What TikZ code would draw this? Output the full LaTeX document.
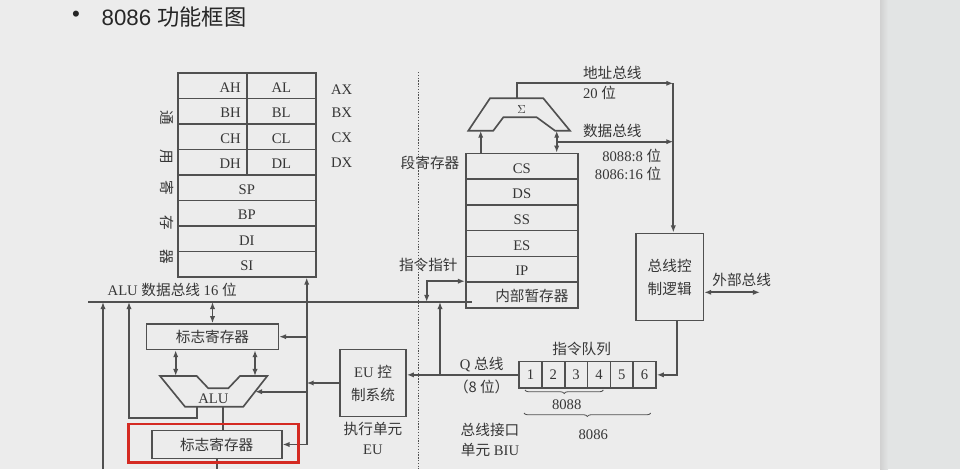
\documentclass[tikz,border=0pt]{standalone}
\usepackage{fontspec}
\setmainfont{Liberation Serif}
\newfontfamily\cjk{Noto Sans CJK SC}
\newfontfamily\titlefont{Liberation Sans}
\usepackage{tikz}
\usetikzlibrary{arrows.meta, decorations.pathreplacing}
\definecolor{ln}{HTML}{505050}
\definecolor{tx}{HTML}{363636}
\definecolor{bg}{HTML}{ECECEC}
\definecolor{side}{HTML}{E2E4E4}
\definecolor{hlred}{HTML}{D42A22}
\newcommand{\zh}[1]{{\cjk #1}}

\begin{document}
\begin{tikzpicture}[x=0.03cm, y=-0.03cm, line width=1.4pt, color=ln, text=tx,
    font=\fontsize{12.5}{15}\selectfont,
    arr/.style={-{Latex[length=6pt,width=4.5pt]}},
    dbl/.style={{Latex[length=6pt,width=4.5pt]}-{Latex[length=6pt,width=4.5pt]}},
    reg/.style={draw, inner sep=0pt, anchor=north west, text height=0.4cm, text depth=0pt},
    half/.style={reg, minimum width=2.07cm, minimum height=0.765cm},
    full/.style={reg, minimum width=4.14cm, minimum height=0.765cm},
    seg/.style={reg, minimum width=3.36cm, minimum height=0.771cm},
    qcell/.style={draw, inner sep=0pt, anchor=north west, minimum width=0.684cm, minimum height=0.8cm},
    box/.style={draw, inner sep=0pt, align=center, font=\fontsize{12.5}{19.5}\selectfont},
    brc/.style={decorate, decoration={brace, mirror, amplitude=3pt}, line width=0.7pt}]
      % page
      \useasboundingbox (0,0) rectangle (960,469);
      \fill[bg] (0,0) rectangle (880,469);
      \fill[side] (880,0) rectangle (960,469);
      \shade[left color=black!18, right color=side] (880,0) rectangle (888,469);
      \node[font=\titlefont\fontsize{19}{22}\selectfont, text=black!85] (bullet) at (76,16.7) {\textbullet};
      \node[font=\titlefont\fontsize{19}{22}\selectfont, text=black!85, anchor=west] (title) at (97,16.7) {8086 \zh{功能框图}};
      % general registers
      \node[half, text width=1.7cm, align=right] (ah) at (177,72) {AH};
      \node[half] (al) at (246,72) {AL};
      \node[half, text width=1.7cm, align=right] (bh) at (177,97.5) {BH};
      \node[half] (bl) at (246,97.5) {BL};
      \node[half, text width=1.7cm, align=right] (ch) at (177,123) {CH};
      \node[half] (cl) at (246,123) {CL};
      \node[half, text width=1.7cm, align=right] (dh) at (177,148.5) {DH};
      \node[half] (dl) at (246,148.5) {DL};
      \node[full] (sp) at (177,174) {SP};
      \node[full] (bp) at (177,199.5) {BP};
      \node[full] (di) at (177,225) {DI};
      \node[full] (si) at (177,250.5) {SI};
      \node (ax) at (341.7,89.5) {AX};
      \node (bx) at (341.7,113) {BX};
      \node (cx) at (341.7,137.5) {CX};
      \node (dx) at (341.7,163) {DX};
      \node[rotate=-90] (g1) at (166.7,118) {\zh{通}};
      \node[rotate=-90] (g2) at (166.7,156.7) {\zh{用}};
      \node[rotate=-90] (g3) at (166.7,188) {\zh{寄}};
      \node[rotate=-90] (g4) at (166.7,223) {\zh{存}};
      \node[rotate=-90] (g5) at (166.7,256.7) {\zh{器}};
      % segment registers
      \node[seg] (cs) at (465,152.7) {CS};
      \node[seg] (ds) at (465,178.4) {DS};
      \node[seg] (ss) at (465,204.1) {SS};
      \node[seg] (es) at (465,229.8) {ES};
      \node[seg] (ip) at (465,255.5) {IP};
      \node[seg, text width=2.8cm, align=right] (tmp) at (465,281.2) {\zh{内部暂存器}};
      \node (seglab) at (430,163.3) {\zh{段寄存器}};
      \node (iplab) at (428.3,265) {\zh{指令指针}};
      % adder
      \draw (468.3,130.7) -- (493.3,130.7) -- (503.3,117.3) -- (536.7,117.3) -- (555,130.7)
            -- (570,130.7) -- (543.3,98.3) -- (490,98.3) -- cycle;
      \node[font=\fontsize{10}{12}\selectfont] (sigma) at (521.7,109.5) {$\Sigma$};
      \coordinate (sgt) at (516.7,98.3);
      \coordinate (sgl) at (480.7,130.7);
      \coordinate (sgr) at (556.7,130.7);
      % boxes
      \node[box, minimum width=3.95cm, minimum height=0.76cm] (flagA) at (212.5,336.7) {\zh{标志寄存器}};
      \node[box, minimum width=3.9cm, minimum height=0.83cm] (flagB) at (216.7,444.5) {\zh{标志寄存器}};
      \node[box, minimum width=1.98cm, minimum height=2.02cm] (eu) at (373,383) {EU \zh{控}\\\zh{制系统}};
      \node[box, minimum width=2.02cm, minimum height=2.62cm] (bcl) at (669.7,277) {\zh{总线控}\\\zh{制逻辑}};
      \foreach \i in {1,...,6}
        \node[qcell] (q\i) at ({518.3+22.8*(\i-1)},360.7) {\i};
      % ALU
      \draw (160,376) -- (196.7,376) -- (208.3,388.3) -- (228.3,388.3) -- (240,376)
            -- (267.3,376) -- (243.3,406.7) -- (185,406.7) -- cycle;
      \node (alu) at (213.3,398.5) {ALU};
      \coordinate (alu1) at (175.7,376);
      \coordinate (alu2) at (255,376);
      \coordinate (aluR) at (255,391.7);
      \coordinate (aluo) at (197,406.7);
      \coordinate (alub) at (223.3,406.7);
      % bus and divider
      \coordinate (busL) at (88,302);
      \coordinate (busR) at (472,302);
      \coordinate (bot) at (0,469);
      \coordinate (divT) at (418.3,72);
      \draw[line width=1.1pt, dash pattern=on 1.1pt off 1.3pt] (divT) -- (divT |- bot);
      \draw (busL) -- (busR);
      \node[anchor=west] (buslab) at (103,290) {ALU \zh{数据总线} 16 \zh{位}};
      % EU side
      \coordinate (in1) at (103,469);
      \coordinate (fb) at (129,418);
      \coordinate (ctl) at (306.7,444.5);
      \draw[arr] (in1) -- (in1 |- busL);
      \draw[arr] (aluo) |- (fb) -- (fb |- busL);
      \draw[dbl] (flagA.north) -- (flagA.north |- busL);
      \draw[dbl] (alu1) -- (alu1 |- flagA.south);
      \draw[dbl] (alu2) -- (alu2 |- flagA.south);
      \draw (alub) -- (alub |- flagB.north);
      \draw (flagB.south) -- (flagB.south |- bot);
      \draw[arr] (ctl) -- (ctl |- si.south);
      \draw[arr] (ctl |- flagA.east) -- (flagA.east);
      \draw[arr] (ctl |- aluR) -- (aluR);
      \draw[arr] (ctl) -- (flagB.east);
      \draw[arr] (eu.west) -- (eu.west -| ctl);
      \node (eulab) at (373,429.3) {\zh{执行单元}};
      \node (eulab2) at (373,450) {EU};
      % BIU side
      \coordinate (qup) at (440,374.3);
      \coordinate (ipx) at (426.7,302);
      \coordinate (bcx) at (673.3,83.3);
      \coordinate (db) at (556.7,141.7);
      \coordinate (bcb) at (676.7,371.7);
      \coordinate (ext) at (760,292.3);
      \draw[arr] (q1.west) -- (q1.west -| eu.east);
      \draw[arr] (qup) -- (qup |- busL);
      \draw[dbl] (ipx) |- (tmp.north west);
      \draw[arr] (sgl |- cs.north) -- (sgl);
      \draw[dbl] (sgr |- cs.north) -- (sgr);
      \draw[arr] (db) -- (db -| bcx);
      \draw[arr] (sgt) |- (bcx);
      \draw[arr] (bcx) -- (bcx |- bcl.north);
      \draw[dbl] (ext -| bcl.east) -- (ext);
      \draw[arr] (bcb |- bcl.south) |- (q6.east);
      % labels
      \node[anchor=west] (ablab) at (578.3,73.3) {\zh{地址总线}};
      \node[anchor=west] (ablab2) at (578.3,93.3) {20 \zh{位}};
      \node[anchor=west] (dblab) at (578.3,130.7) {\zh{数据总线}};
      \node[anchor=east] (dblab2) at (666,155.7) {8088:8 \zh{位}};
      \node[anchor=east] (dblab3) at (666,174.3) {8086:16 \zh{位}};
      \node (extlab) at (741.7,280) {\zh{外部总线}};
      \node (qlab) at (581.7,349) {\zh{指令队列}};
      \node (qbus) at (481.7,364.3) {Q \zh{总线}};
      \node (qbus2) at (481.7,386.7) {\zh{（8 位）}};
      \node (biu) at (490,430) {\zh{总线接口}};
      \node (biu2) at (490,450) {\zh{单元} BIU};
      % braces
      \draw[brc] (525,390) -- (603.3,390);
      \node (b8088) at (566.7,405) {8088};
      \draw[brc] (524,413) -- (650.7,413);
      \node (b8086) at (593.3,435) {8086};
      % highlight
      \draw[hlred, line width=2.5pt] (128.3,424) rectangle (298.3,462.7);
\end{tikzpicture}
\end{document}
